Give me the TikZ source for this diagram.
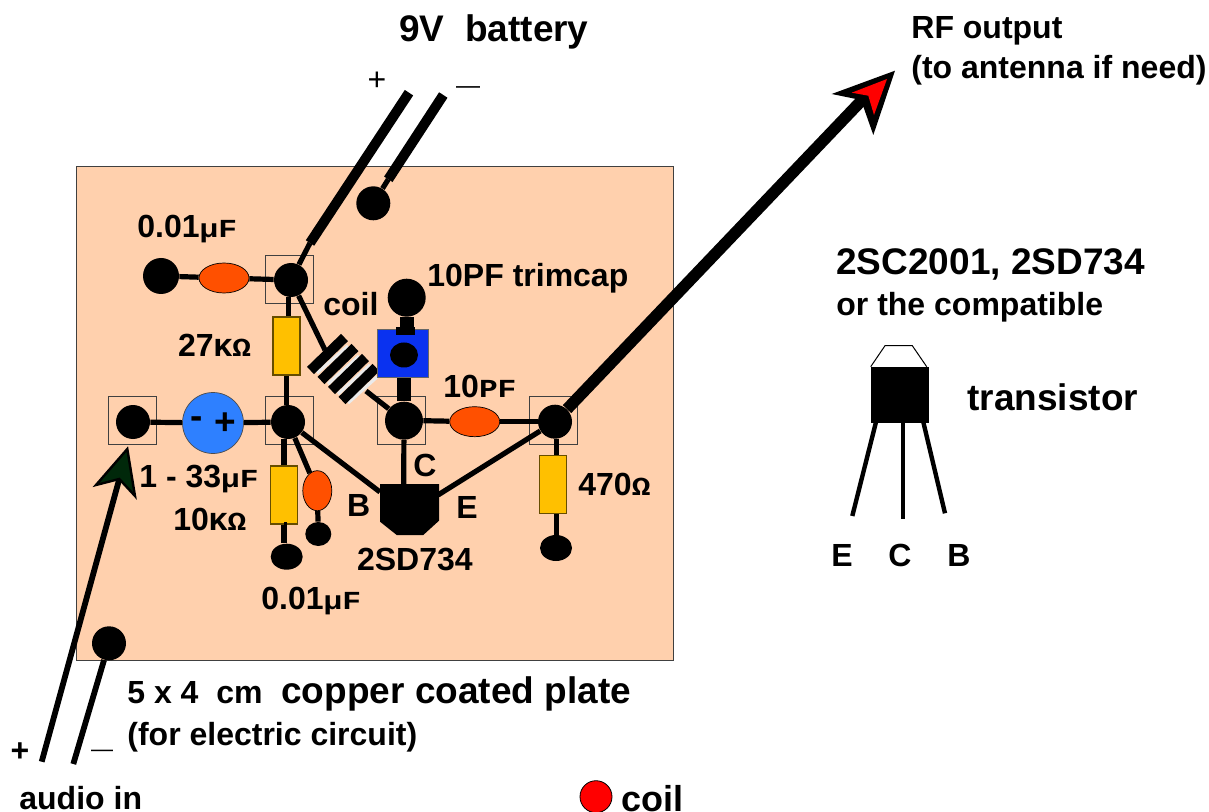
\documentclass[tikz,border=0pt]{standalone}
\usepackage{fontspec}
\usepackage{graphicx}
\setmainfont{Liberation Sans}
\newfontfamily\monof{Liberation Mono}
\usetikzlibrary{shapes.geometric}
\pgfdeclarelayer{bg}
\pgfsetlayers{bg,main}
\definecolor{plate}{HTML}{FFD0AD}
\definecolor{capor}{HTML}{FF5000}
\definecolor{capbl}{HTML}{2E80FF}
\definecolor{resy}{HTML}{FFC000}
\definecolor{trimb}{HTML}{0A32F0}
\definecolor{darkgr}{HTML}{00280A}
\newcommand\unitf[1]{\scalebox{1.2}[1]{\fontsize{13}{13}\selectfont\monof #1}}
\newcommand\mainf{\fontsize{16}{16}\selectfont\bfseries}
\newcommand\bigf{\fontsize{18.5}{18.5}\selectfont\bfseries}
\tikzset{
  x=0.5pt,y=-0.5pt,
  pad/.style={circle,fill=black,inner sep=0pt,minimum size=#1},
  oval/.style 2 args={ellipse,fill=black,inner sep=0pt,minimum width=#1,minimum height=#2},
  capov/.style 2 args={ellipse,fill=capor,draw=black,line width=.35pt,inner sep=0pt,minimum width=#1,minimum height=#2},
  resbox/.style={rectangle,fill=resy,draw=black!60!resy,line width=.6pt,inner sep=0pt,minimum width=13.5pt,minimum height=29pt},
  solder/.style={rectangle,draw=black!75,line width=.4pt,fill=none,inner sep=0pt,minimum size=24pt},
  wire/.style={draw=black,line width=2.6pt},
  hwire/.style={draw=black,line width=5pt},
  heavy/.style={draw=black,line width=7pt},
  coilbar/.style={draw=black,line width=5pt},
  coilgap/.style={draw=white!92!black,line width=1.6pt},
  lab/.style={anchor=base west,inner sep=0pt,font=\mainf},
  biglab/.style={anchor=base west,inner sep=0pt,font=\bigf},
}
\begin{document}
\begin{tikzpicture}
\useasboundingbox (0,0) rectangle (1209,812);
\begin{pgfonlayer}{bg}
\path[fill=plate,draw=black!75,line width=.5pt] (76,167) rectangle (673,660);
\end{pgfonlayer}
% coil
\draw[coilgap] (317,373) -- (348,346);
\draw[coilgap] (328,384) -- (359,356);
\draw[coilgap] (338,394) -- (370,365);
\draw[coilgap] (348,403) -- (377,377);
\draw[coilbar] (310.5,370.5) -- (344.5,337.5);
\draw[coilbar] (321,380.5) -- (355,347.5);
\draw[coilbar] (331.5,390.5) -- (365.5,357.5);
\draw[coilbar] (342,400.5) -- (376,367.5);
\coordinate (coilT) at (325,350);
\coordinate (coilB) at (366,391);
% solder squares
\node[solder] (s1) at (289.5,279) {};
\node[solder] (s2) at (289.5,420.5) {};
\node[solder] (s3) at (132,420.5) {};
\node[solder] (s4) at (401,420.5) {};
\node[solder] (s5) at (553,420.5) {};
% pads
\node[pad=18pt] (pA) at (161,276) {};
\node[pad=17pt] (pB) at (291,280) {};
\node[pad=17pt] (pC) at (288,422) {};
\node[pad=17pt] (pD) at (133,422) {};
\node[pad=19pt] (pE) at (404,420.7) {};
\node[pad=17pt] (pF) at (555,421.7) {};
\node[pad=19pt] (pG) at (406.7,297.7) {};
\node[pad=17pt] (pH) at (373.3,203.3) {};
\node[pad=17pt] (pI) at (109,643.3) {};
\node[oval={16pt}{13pt}] (pJ) at (286.7,556.7) {};
\node[oval={13pt}{12pt}] (pK) at (318.3,534) {};
\node[oval={16pt}{13pt}] (pL) at (556,548) {};
% components
\node[capov={25pt}{15pt}] (c1) at (224,278) {};
\node[capov={25pt}{15pt}] (c2) at (474.7,421.7) {};
\node[capov={14.5pt}{20pt}] (c3) at (317.3,490.7) {};
\node[resbox] (r1) at (286.5,346) {};
\node[resbox] (r2) at (284,495) {};
\node[resbox] (r3) at (553.3,484.5) {};
\node[circle,fill=capbl,draw=black!70,line width=.35pt,inner sep=0pt,minimum size=30.5pt] (cb) at (213,423) {};
\node[rectangle,fill=trimb,draw=black!60,line width=.4pt,inner sep=0pt,minimum width=25.3pt,minimum height=24.2pt] (trim) at (402.6,353.5) {};
\node[oval={14pt}{12.5pt}] (tdot) at (404,355) {};
\fill[black] (396,327) rectangle (415,335);
% on-board transistor
\fill[black] (380,484) -- (439,484) -- (439,520.7) -- (423.3,535) -- (396.7,535) -- (380,521.7) -- cycle;
\coordinate (tB) at (380,492);
\coordinate (tC) at (403.7,484);
\coordinate (tE) at (438,495);
% wires
\draw[wire] (pA) -- (c1);
\draw[wire] (c1) -- (pB);
\draw[wire] ([xshift=1pt]r1.north) -- ([xshift=1pt]r1.north |- pB.south);
\draw[wire] (r1.south) -- (r1.south |- pC.north);
\draw[wire] (pD) -- (cb);
\draw[wire] (cb) -- (pC);
\draw[wire] (pB) -- (coilT);
\draw[wire] (coilB) -- (pE);
\draw[wire] (pE.east) -- (c2);
\draw[wire] (c2) -- (pF);
\draw[wire] (r2.north) -- (r2.north |- pC.south);
\draw[wire] (r2.south) -- (r2.south -| pJ.north);
\draw[wire] (r2.south) -- (pJ.north -| r2.south);
\draw[wire] (pC) -- (c3);
\draw[wire] (c3) -- (pK);
\draw[wire] (pC) -- (tB);
\draw[wire] (pE) -- (tC);
\draw[wire] (tE) -- (pF);
\draw[wire] ([xshift=1.4pt]r3.north) -- ([xshift=1.4pt]r3.north |- pF.south);
\draw[wire] ([xshift=1.4pt]r3.south) -- ([xshift=1.4pt]r3.south |- pL.north);
\draw[heavy] (pG) -- (pG |- trim.north);
\draw[heavy] (pE) -- (pE |- trim.south);
% battery leads
\coordinate (batP) at (409,92.7);
\coordinate (batPk) at (310,243);
\coordinate (batM) at (443.3,95);
\coordinate (batMk) at (388.3,179.3);
\draw[hwire] (batP) -- (batPk);
\draw[wire] (batPk) -- (pB);
\draw[hwire] (batM) -- (batMk);
\draw[wire] (batMk) -- (pH);
% RF output
\coordinate (rfN) at (864,98);
\draw[draw=black,line width=5.8pt] (pF) -- (rfN);
\fill[black] (895,70.7) -- (831.7,94) -- (861,100) -- (873.3,135) -- cycle;
\fill[red] (887,79) -- (851.7,92.7) -- (868.3,95.7) -- (874,115) -- cycle;
% audio
\coordinate (auP) at (41.7,761.7);
\coordinate (auN) at (119.3,479);
\coordinate (auM) at (73.3,764);
\draw[draw=black,line width=2.9pt] (auP) -- (auN);
\draw[draw=black,line width=2.9pt] (auM) -- (pI);
\path[fill=darkgr,draw=black,line width=1.2pt,line join=miter] (127.3,449) -- (96,485) -- (119.3,479) -- (135,496) -- cycle;
% right transistor
\draw[black,line width=.5pt,fill=white] (870.7,366.7) -- (885,345.7) -- (912.3,345.7) -- (926.7,366.7);
\node[rectangle,fill=black,inner sep=0pt,minimum width=29.3pt,minimum height=28pt] (tr) at (900,394.7) {};
\coordinate (legE) at (852.3,516);
\coordinate (legC) at (902.7,519.3);
\coordinate (legB) at (945,513.3);
\draw[draw=black,line width=2.2pt] (876,422) -- (legE);
\draw[draw=black,line width=2.2pt] (902.7,422) -- (legC);
\draw[draw=black,line width=2.2pt] (923.3,422) -- (legB);
% legend
\node[circle,fill=red,draw=black,line width=.4pt,inner sep=0pt,minimum size=16pt] (legc) at (596,796.7) {};
% labels
\node[biglab] (t1) at (399,42) {9V\ \ battery};
\node[lab] (t2) at (911,39) {RF output};
\node[lab] (t3) at (911,79) {(to antenna if need)};
\node[inner sep=0pt,font=\fontsize{16}{16}\selectfont] (t4) at (377,81) {+};
\node[inner sep=0pt,font=\fontsize{12}{12}\selectfont] (t5) at (468,90) {—};
\node[lab] (t6) at (137,238) {0.01\unitf{μF}};
\node[lab] (t7) at (323,316) {coil};
\node[lab] (t8) at (427,287) {10PF trimcap};
\node[lab] (t9) at (177.7,356.7) {27\unitf{KΩ}};
\node[lab] (t10) at (443,397) {10\unitf{PF}};
\node[lab] (t11) at (139,487) {1 - 33\unitf{μF}};
\node[lab] (t12) at (173,530) {10\unitf{KΩ}};
\node[lab] (t13) at (346.7,516.7) {B};
\node[lab] (t14) at (413,476) {C};
\node[lab] (t15) at (456,518) {E};
\node[lab] (t16) at (356.7,570) {2SD734};
\node[lab] (t17) at (261,609) {0.01\unitf{μF}};
\node[lab] (t18) at (578,495) {470\unitf{Ω}};
\node[inner sep=0pt,font=\bigf] (t19) at (196.7,423) {-};
\node[inner sep=0pt,font=\bigf] (t20) at (225.7,424) {+};
\node[biglab] (t21) at (836,275) {2SC2001, 2SD734};
\node[lab] (t22) at (836,316) {or the compatible};
\node[biglab] (t23) at (967,410) {transistor};
\node[lab] (t24) at (831,566) {E};
\node[lab] (t25) at (888,566) {C};
\node[lab] (t26) at (947,566) {B};
\node[lab] (t27) at (127,703) {5 x 4\ \ cm};
\node[biglab] (t28) at (281,703) {copper coated plate};
\node[lab] (t29) at (127,745) {(for electric circuit)};
\node[lab] (t30) at (19,809) {audio in};
\node[inner sep=0pt,font=\mainf] (t31) at (20,752) {+};
\node[inner sep=0pt,font=\fontsize{11}{11}\selectfont] (t32) at (102,753) {—};
\node[anchor=base west,inner sep=0pt,font=\fontsize{18}{18}\selectfont\bfseries] (t33) at (621,811) {coil};
\end{tikzpicture}
\end{document}
